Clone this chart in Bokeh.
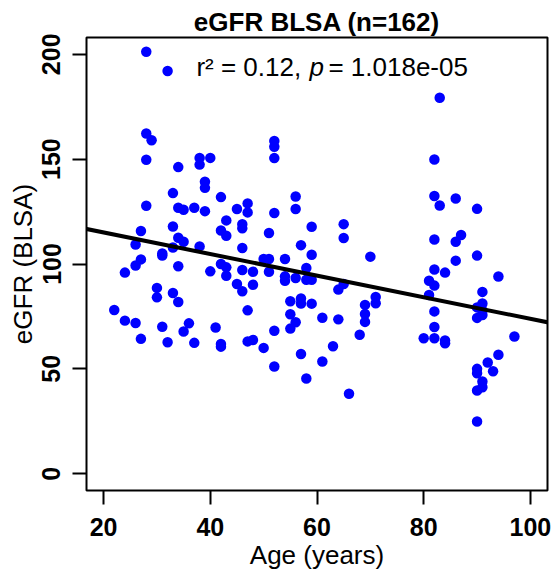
from bokeh.plotting import figure
from bokeh.models import Range1d, FixedTicker, Slope, Label
from bokeh.embed import file_html
from bokeh.resources import INLINE

# ---- data ----
age = [28, 32, 28, 29, 28, 34, 38, 40, 38, 39, 39, 33, 42, 28, 34, 35, 37, 39, 43, 33,
       27, 34, 35, 42, 43, 26, 38, 33, 31, 31, 27, 26, 24, 34, 40, 42, 43, 43, 30, 30,
       33, 34, 22, 24, 26, 31, 36, 35, 41, 27, 32, 37, 42, 42,
       52, 52, 52, 45, 47, 47, 52, 56, 56, 46, 46, 51, 59, 65, 65, 57, 46, 59, 50, 51,
       54, 46, 48, 51, 54, 54, 56, 58, 58, 59, 45, 46, 48, 64, 65, 55, 57, 57, 59, 47,
       55, 56, 55, 61, 64, 68, 52, 47, 48, 50, 57, 63, 61, 52, 58, 66, 70, 71, 71, 69,
       69, 69,
       83, 82, 82, 83, 86, 90, 82, 87, 86, 90, 86, 82, 84, 94, 81, 82, 81, 91, 91, 90,
       91, 91, 90, 82, 82, 80, 82, 84, 84, 97, 94, 92, 93, 90, 90, 91, 91, 90, 90]
egfr = [201.2, 192.0, 162.2, 159.0, 149.7, 146.2, 150.6, 150.6, 147.4, 139.2, 136.3, 133.8, 131.9, 127.8,
        126.8, 125.9, 126.8, 125.2, 120.8, 117.9, 115.7, 112.5, 110.6, 116.0, 113.5, 109.3, 108.4, 107.9,
        105.0, 104.0, 102.2, 99.3, 95.9, 98.9, 96.5, 100.0, 98.4, 94.4, 88.6, 84.1, 86.2, 81.9, 78.1,
        73.0, 71.9, 70.1, 71.7, 67.8, 69.7, 64.3, 62.7, 62.4, 61.9, 60.6,
        158.7, 155.9, 150.5, 126.2, 128.9, 124.6, 124.3, 132.2, 126.2, 119.0, 117.0, 114.8, 117.8, 119.0,
        112.4, 109.0, 107.6, 104.4, 102.4, 102.4, 102.4, 97.1, 96.3, 96.3, 94.1, 92.0, 93.3, 98.1, 92.5,
        92.5, 90.5, 87.0, 90.1, 87.8, 90.5, 82.2, 83.6, 81.2, 81.1, 77.9, 76.0, 72.2, 69.2, 74.4, 73.6,
        66.3, 68.2, 63.1, 63.8, 60.0, 57.1, 60.8, 53.5, 51.1, 45.4, 38.1, 103.5, 84.3, 81.3, 80.5, 76.2,
        72.4,
        179.3, 149.8, 132.4, 127.9, 131.2, 126.3, 111.7, 113.8, 110.6, 104.0, 101.6, 97.4, 95.9, 94.0,
        92.0, 89.7, 85.2, 86.7, 81.2, 79.3, 77.8, 75.7, 74.3, 77.4, 70.0, 64.6, 64.6, 63.5, 62.2, 65.4,
        56.7, 53.0, 48.9, 50.0, 47.9, 44.0, 41.2, 39.7, 24.9]

x_ticks = [20, 40, 60, 80, 100]
y_ticks = [0, 50, 100, 150, 200]
fit_intercept = 125.35
fit_slope = -0.515

FONT = "Liberation Sans"

p = figure(width=560, height=577, output_backend="svg", toolbar_location=None,
           x_range=Range1d(16.8, 103.2), y_range=Range1d(-8, 208),
           min_border_left=86, min_border_right=13, min_border_top=37, min_border_bottom=87,
           title="eGFR BLSA (n=162)")
p.background_fill_color = "white"
p.border_fill_color = "white"
p.grid.visible = False
p.outline_line_color = "black"
p.outline_line_width = 2

p.title.align = "center"
p.title.text_font = FONT
p.title.text_font_size = "26px"
p.title.text_font_style = "bold"
p.title.text_color = "black"
p.title.standoff = 2

for ax in (p.xaxis[0], p.yaxis[0]):
    ax.axis_line_color = None
    ax.major_tick_in = 0
    ax.major_tick_out = 14
    ax.major_tick_line_width = 2
    ax.major_tick_line_color = "black"
    ax.minor_tick_line_color = None
    ax.major_label_text_font = FONT
    ax.major_label_text_font_size = "25px"
    ax.major_label_text_font_style = "bold"
    ax.major_label_text_color = "black"
    ax.axis_label_text_font = FONT
    ax.axis_label_text_font_size = "26px"
    ax.axis_label_text_font_style = "normal"
    ax.axis_label_text_color = "black"

p.xaxis.ticker = FixedTicker(ticks=x_ticks)
p.yaxis.ticker = FixedTicker(ticks=y_ticks)
p.xaxis.axis_label = "Age (years)"
p.yaxis.axis_label = "eGFR (BLSA)"
p.yaxis.major_label_orientation = "vertical"
p.xaxis.major_label_standoff = 13
p.yaxis.major_label_standoff = 12
p.xaxis.axis_label_standoff = 1
p.yaxis.axis_label_standoff = 2

p.scatter(age, egfr, size=10.5, color="#0000FF", line_color=None)

p.add_layout(Slope(gradient=fit_slope, y_intercept=fit_intercept,
                   line_color="black", line_width=4))

lx, ly = 37.4, 194.0
p.add_layout(Label(x=lx, y=ly, text="r² = 0.12,", text_font=FONT, text_font_size="26px",
                   text_color="black", text_baseline="alphabetic", text_align="left"))
p.add_layout(Label(x=lx, y=ly, x_offset=113, text="p", text_font=FONT, text_font_size="26px",
                   text_color="black", text_font_style="italic", text_baseline="alphabetic",
                   text_align="left"))
p.add_layout(Label(x=lx, y=ly, x_offset=132, text="= 1.018e-05", text_font=FONT,
                   text_color="black", text_font_size="26px", text_baseline="alphabetic",
                   text_align="left"))

open("out.html", "w").write(file_html(p, INLINE))
